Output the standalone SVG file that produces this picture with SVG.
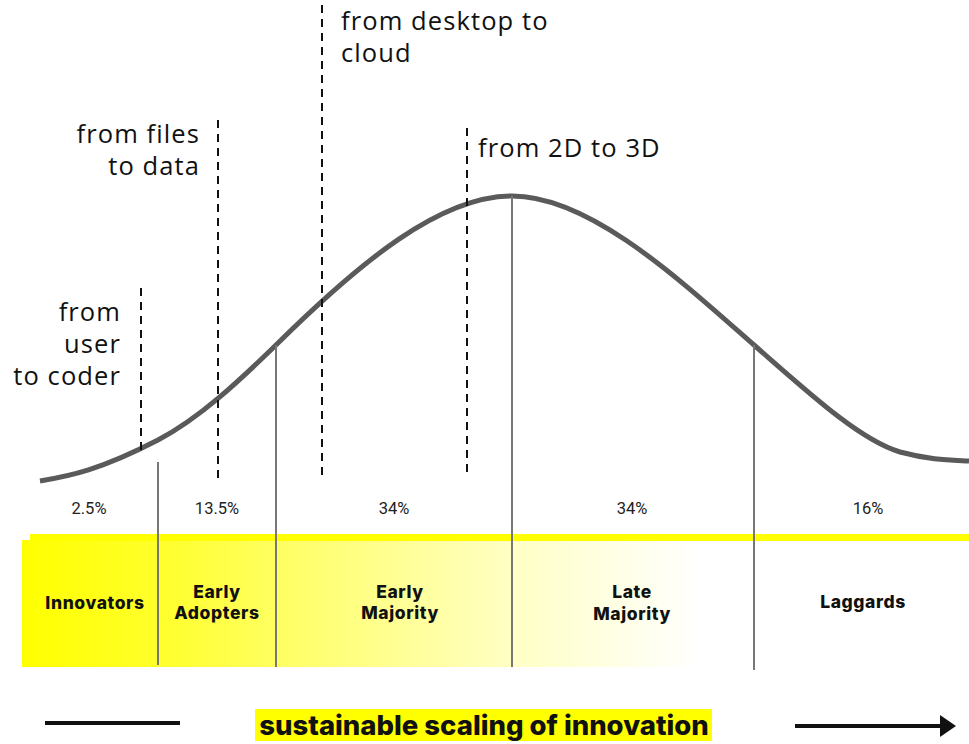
<svg xmlns="http://www.w3.org/2000/svg" width="969" height="744" viewBox="0 0 969 744">
<style>
.ann{font-family:"Open Sans","Liberation Sans",sans-serif;font-size:25.5px;letter-spacing:1.1px;fill:#111}
.pct{font-family:Roboto,"Liberation Sans",sans-serif;font-size:16.5px;fill:#222;text-anchor:middle}
.lbl{font-family:Inter,"Open Sans",sans-serif;font-size:17.5px;font-weight:800;letter-spacing:0.6px;fill:#111;text-anchor:middle}
.dash{stroke:#111;stroke-width:2;stroke-dasharray:8 6;fill:none}
.div{stroke:#777;stroke-width:2;fill:none}
</style>
<defs>
<linearGradient id="g" gradientUnits="userSpaceOnUse" x1="22" y1="0" x2="700" y2="0">
<stop offset="0" stop-color="#ffff00"/>
<stop offset="0.2" stop-color="#ffff2a"/>
<stop offset="0.37" stop-color="#ffff60"/>
<stop offset="0.72" stop-color="#ffffc4"/>
<stop offset="1" stop-color="#ffffff"/>
</linearGradient>
</defs>
<rect width="969" height="744" fill="#fff"/>
<g id="band">
<rect x="22" y="540" width="680" height="127" fill="url(#g)"/>
<rect x="30" y="534" width="939" height="7" fill="#ffff00"/>
</g>
<g id="curve">
<path d="M40,481 C70,476 100,470 158,440 C200,418 240,380 276,345 C360,262 440,196 512,196 C590,196 680,280 754,345 C810,394 860,440 900,452 C930,460 950,460 969,461" fill="none" stroke="#5a5a5a" stroke-width="5"/>
</g>
<g id="connectors">
<line class="div" x1="158" y1="462" x2="158" y2="665"/>
<line class="div" x1="276" y1="345" x2="276" y2="667"/>
<line class="div" x1="512" y1="196" x2="512" y2="667"/>
<line class="div" x1="754" y1="345" x2="754" y2="670"/>
<line class="dash" x1="141" y1="288" x2="141" y2="452"/>
<line class="dash" x1="218" y1="120" x2="218" y2="478"/>
<line class="dash" x1="322" y1="5" x2="322" y2="478"/>
<line class="dash" x1="467" y1="128" x2="467" y2="472"/>
</g>
<g id="annotations">
<text class="ann" x="121" y="321" text-anchor="end">from</text>
<text class="ann" x="121" y="353" text-anchor="end">user</text>
<text class="ann" x="121" y="385" text-anchor="end">to coder</text>
<text class="ann" x="200" y="143" text-anchor="end">from files</text>
<text class="ann" x="200" y="175" text-anchor="end">to data</text>
<text class="ann" x="341" y="30">from desktop to</text>
<text class="ann" x="341" y="62">cloud</text>
<text class="ann" x="478" y="157">from 2D to 3D</text>
</g>
<g id="percentages">
<text class="pct" x="89" y="514">2.5%</text>
<text class="pct" x="217" y="514">13.5%</text>
<text class="pct" x="394" y="514">34%</text>
<text class="pct" x="632" y="514">34%</text>
<text class="pct" x="868" y="514">16%</text>
</g>
<g id="innovators"><text class="lbl" x="95" y="609">Innovators</text></g>
<g id="early-adopters"><text class="lbl" x="217" y="598">Early</text><text class="lbl" x="217" y="619">Adopters</text></g>
<g id="early-majority"><text class="lbl" x="400" y="598">Early</text><text class="lbl" x="400" y="619">Majority</text></g>
<g id="late-majority"><text class="lbl" x="632" y="598">Late</text><text class="lbl" x="632" y="620">Majority</text></g>
<g id="laggards"><text class="lbl" x="863" y="608">Laggards</text></g>
<g id="footer">
<line x1="45" y1="723" x2="180" y2="723" stroke="#111" stroke-width="4"/>
<line x1="795" y1="726" x2="942" y2="726" stroke="#111" stroke-width="4"/>
<polygon points="940,715 956,726 940,737" fill="#111"/>
<rect x="255" y="709" width="457" height="32" fill="#ffff00"/>
<text x="484" y="735" text-anchor="middle" font-family="Inter,'Open Sans',sans-serif" font-size="27.5" font-weight="800" fill="#111">sustainable scaling of innovation</text>
</g>
</svg>
